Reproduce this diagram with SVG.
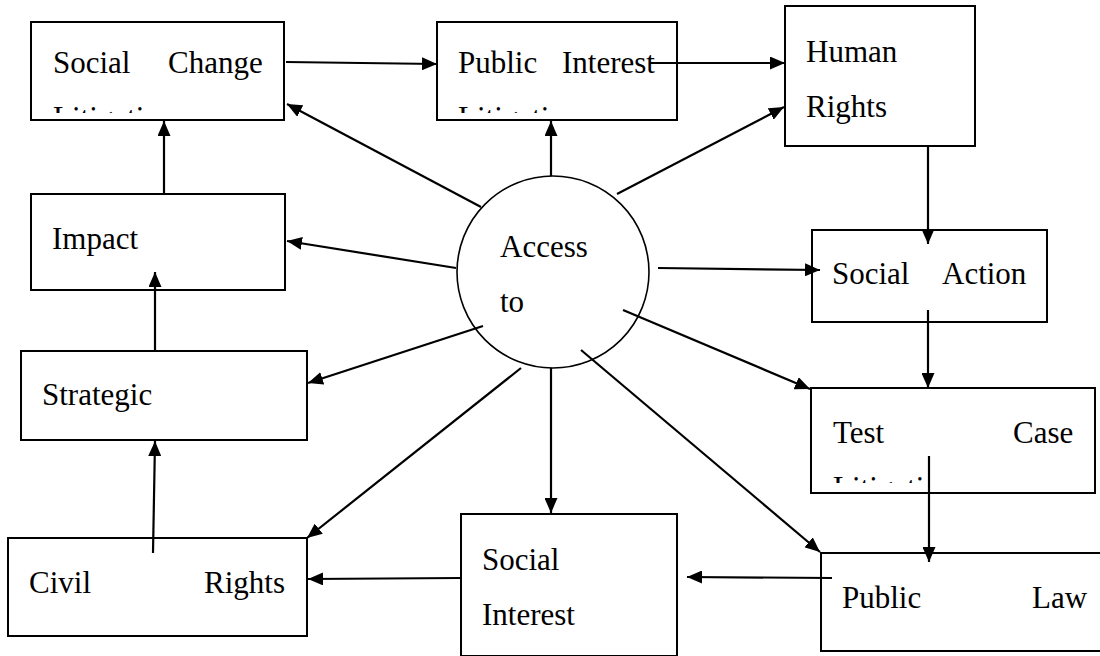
<svg xmlns="http://www.w3.org/2000/svg" width="1100" height="656" viewBox="0 0 1100 656">
  <style>
    .box { fill: #fff; stroke: #000; stroke-width: 2; }
    .hub { fill: #fff; stroke: #000; stroke-width: 1.6; }
    .lbl { font-family: "Liberation Serif", "Times New Roman", serif; font-size: 31px; fill: #000; }
    .edge { stroke: #000; stroke-width: 2.2; fill: none; marker-end: url(#head); }
  </style>
  <defs>
    <marker id="head" markerUnits="userSpaceOnUse" markerWidth="16" markerHeight="13" refX="15" refY="6.5" orient="auto">
      <path d="M0,0 L15,6.5 L0,13 z" fill="#000"/>
    </marker>
    <clipPath id="clip-social-change"><rect x="31" y="22" width="253" height="91"/></clipPath>
    <clipPath id="clip-public-interest"><rect x="437" y="22" width="240" height="91"/></clipPath>
    <clipPath id="clip-test-case"><rect x="811" y="388" width="284" height="95"/></clipPath>
  </defs>

  <!-- boxes -->
  <g id="social-change">
    <rect class="box" x="31" y="22" width="253" height="98"/>
    <text class="lbl" x="53" y="73">Social</text>
    <text class="lbl" x="168" y="73">Change</text>
    <text class="lbl" x="53" y="128" clip-path="url(#clip-social-change)">Litigation</text>
  </g>
  <g id="public-interest">
    <rect class="box" x="437" y="22" width="240" height="98"/>
    <text class="lbl" x="458" y="73">Public</text>
    <text class="lbl" x="562" y="73">Interest</text>
    <text class="lbl" x="458" y="128" clip-path="url(#clip-public-interest)">Litigation</text>
  </g>
  <g id="human-rights">
    <rect class="box" x="785" y="6" width="190" height="140"/>
    <text class="lbl" x="806" y="62">Human</text>
    <text class="lbl" x="806" y="117">Rights</text>
  </g>
  <g id="impact">
    <rect class="box" x="31" y="194" width="254" height="96"/>
    <text class="lbl" x="52" y="249">Impact</text>
  </g>
  <g id="social-action">
    <rect class="box" x="812" y="230" width="235" height="92"/>
    <text class="lbl" x="832" y="284">Social</text>
    <text class="lbl" x="942" y="284">Action</text>
  </g>
  <g id="strategic">
    <rect class="box" x="21" y="351" width="286" height="89"/>
    <text class="lbl" x="42" y="405">Strategic</text>
  </g>
  <g id="test-case">
    <rect class="box" x="811" y="388" width="284" height="105"/>
    <text class="lbl" x="833" y="443">Test</text>
    <text class="lbl" x="1013" y="443">Case</text>
    <text class="lbl" x="833" y="498" clip-path="url(#clip-test-case)">Litigation</text>
  </g>
  <g id="civil-rights">
    <rect class="box" x="8" y="538" width="299" height="98"/>
    <text class="lbl" x="29" y="593">Civil</text>
    <text class="lbl" x="204" y="593">Rights</text>
  </g>
  <g id="social-interest">
    <rect class="box" x="461" y="514" width="216" height="142"/>
    <text class="lbl" x="482" y="570">Social</text>
    <text class="lbl" x="482" y="625">Interest</text>
  </g>
  <g id="public-law">
    <rect class="box" x="821" y="553" width="290" height="98"/>
    <text class="lbl" x="842" y="608">Public</text>
    <text class="lbl" x="1032" y="608">Law</text>
  </g>
  <g id="access-to">
    <circle class="hub" cx="553" cy="272" r="96"/>
    <text class="lbl" x="500" y="257">Access</text>
    <text class="lbl" x="500" y="312">to</text>
  </g>

  <!-- connectors -->
  <g id="connectors">
    <line class="edge" x1="286" y1="62" x2="437" y2="64"/>
    <line class="edge" x1="650" y1="63" x2="785" y2="63"/>
    <line class="edge" x1="928" y1="146" x2="928" y2="244"/>
    <line class="edge" x1="928" y1="310" x2="928" y2="388"/>
    <line class="edge" x1="929" y1="456" x2="929" y2="562"/>
    <line class="edge" x1="832" y1="578" x2="687" y2="577"/>
    <line class="edge" x1="461" y1="578" x2="308" y2="579"/>
    <line class="edge" x1="153" y1="553" x2="155" y2="441"/>
    <line class="edge" x1="155" y1="351" x2="155" y2="272"/>
    <line class="edge" x1="164" y1="194" x2="164" y2="121"/>

    <line class="edge" x1="481" y1="207" x2="287" y2="104"/>
    <line class="edge" x1="551" y1="176" x2="551" y2="121"/>
    <line class="edge" x1="617" y1="194" x2="784" y2="107"/>
    <line class="edge" x1="456" y1="268" x2="287" y2="241"/>
    <line class="edge" x1="658" y1="268" x2="820" y2="270"/>
    <line class="edge" x1="483" y1="326" x2="308" y2="383"/>
    <line class="edge" x1="623" y1="310" x2="810" y2="389"/>
    <line class="edge" x1="521" y1="368" x2="307" y2="538"/>
    <line class="edge" x1="551" y1="368" x2="551" y2="513"/>
    <line class="edge" x1="581" y1="350" x2="820" y2="552"/>
  </g>
</svg>
